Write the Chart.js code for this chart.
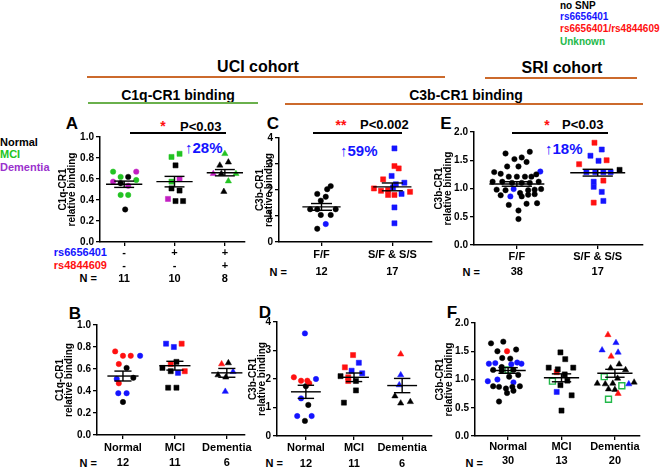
<!DOCTYPE html>
<html>
<head>
<meta charset="utf-8">
<script src="https://cdn.jsdelivr.net/npm/chart.js@4.4.0/dist/chart.umd.min.js"></script>
<style>
  body { margin: 0; background: #fff; width: 661px; height: 468px; position: relative; overflow: hidden;
         font-family: "Liberation Sans", Arial, sans-serif; font-weight: bold; }
  canvas { position: absolute; }
  .t { position: absolute; white-space: nowrap; line-height: 1; }
  .hl { position: absolute; }
</style>
</head>
<body>
<script>
// colour keys: k normal / no SNP, g MCI, m dementia, b rs6656401, r rs6656401/rs4844609, u unknown (open square)

// ---- A: C1q-CR1 by genotype (UCI)
const aRs1 = ['-', '+', '+'];
const aRs2 = ['-', '-', '+'];
const aN = [11, 10, 8];
const aGrp = [0,0,0,0,0,0,0,0,0,0,0, 1,1,1,1,1,1,1,1,1,1, 2,2,2,2,2,2,2,2];
const aJit = [-0.22,0.24,-0.07,0.08,0.24,-0.22,-0.07,0.08,-0.07,0.08,0.02,
              -0.06,0.1,0.02,-0.06,0.1,-0.06,0.1,-0.13,0.02,0.17,
              0,-0.1,0.07,-0.23,-0.07,0.22,0.07,-0.02];
const aVal = [0.67,0.67,0.62,0.62,0.59,0.575,0.56,0.536,0.448,0.448,0.31,
              0.81,0.84,0.73,0.575,0.60,0.51,0.49,0.41,0.39,0.39,
              0.84,0.73,0.76,0.65,0.65,0.65,0.58,0.48];
const aCol = ['g','m','g','k','g','m','k','m','g','g','k',
              'g','g','k','g','m','k','k','m','k','k',
              'g','k','k','m','k','g','g','k'];
const aMean = [0.55, 0.575, 0.66];
const aSem = [0.03, 0.05, 0.03];

// ---- C: C3b-CR1 by genotype (UCI)
const cCats = ['F/F', 'S/F & S/S'];
const cN = [12, 17];
const cGrp = [0,0,0,0,0,0,0,0,0,0,0,0, 1,1,1,1,1,1,1,1,1,1,1,1,1,1,1,1,1];
const cJit = [0.13,0.08,-0.06,0.06,-0.01,-0.16,-0.06,0.2,-0.01,0.13,0.06,-0.06,
              0.03,0.03,0.09,-0.01,-0.13,0.17,0.05,-0.26,-0.16,-0.06,0.01,0.25,-0.06,0.13,0.03,0.03,0.03];
const cVal = [2.15,2.03,1.85,1.74,1.59,1.26,1.26,1.26,1.04,1.04,0.69,0.51,
              3.6,2.92,2.83,2.54,2.41,2.28,2.22,2.06,1.97,2.0,2.1,1.93,1.81,1.85,1.81,1.33,0.72];
const cCol = ['k','k','k','k','k','k','k','k','k','k','b','k',
              'b','r','r','b','r','b','b','r','r','r','b','r','r','b','r','b','b'];
const cMean = [1.35, 2.12];
const cSem = [0.13, 0.15];

// ---- E: C3b-CR1 by genotype (SRI)
const eCats = ['F/F', 'S/F & S/S'];
const eN = [38, 17];
const eGrp = [0,0,0,0,0,0,0,0,0,0,0,0,0,0,0,0,0,0,0,0,0,0,0,0,0,0,0,0,0,0,0,0,0,0,0,0,0,0,
              1,1,1,1,1,1,1,1,1,1,1,1,1,1,1,1,1];
const eJit = [0.16,-0.14,0.06,-0.03,0.12,-0.12,0.02,0.29,-0.28,-0.2,0.24,-0.1,0,0.1,0.18,-0.3,-0.18,-0.06,0.06,
              0.16,0.27,-0.25,-0.14,-0.04,0.14,0.22,0.3,0.04,-0.08,-0.2,0.06,0.14,0.22,0.25,-0.1,0.02,0.02,0.12,
              -0.04,0.05,-0.09,0.11,0.01,-0.23,-0.14,-0.03,0.07,0.16,0.27,-0.05,0.07,-0.05,0.05,-0.05,0.07];
const eVal = [1.65,1.62,1.55,1.52,1.47,1.39,1.39,1.30,1.29,1.26,1.25,1.21,1.21,1.21,1.21,1.12,1.12,1.1,1.1,
              1.1,1.12,0.98,0.97,0.99,0.97,0.98,0.99,0.92,0.86,0.88,0.86,0.89,0.9,0.74,0.71,0.61,0.46,0.73,
              1.81,1.69,1.58,1.50,1.49,1.43,1.29,1.29,1.29,1.29,1.33,1.12,1.14,1.03,0.94,0.75,0.78];
const eCol = ['k','k','k','k','k','k','k','b','k','k','k','k','k','k','k','k','k','k','k',
              'k','k','k','k','b','k','k','k','k','b','k','k','k','k','k','k','k','k','k',
              'r','b','b','r','b','r','b','b','b','b','k','b','r','b','b','r','b'];
const eMean = [1.08, 1.28];
const eSem = [0.04, 0.06];

// ---- B: C1q-CR1 by diagnosis
const bCats = ['Normal', 'MCI', 'Dementia'];
const bN = [12, 11, 6];
const bGrp = [0,0,0,0,0,0,0,0,0,0,0,0, 1,1,1,1,1,1,1,1,1,1,1, 2,2,2,2,2,2];
const bJit = [-0.15,0,0.15,0.33,-0.08,0.07,-0.12,0.2,-0.08,-0.09,0.07,0,
              -0.17,0.13,-0.02,0.03,-0.08,-0.24,-0.08,0.19,0.06,-0.13,0.03,
              -0.1,0.03,-0.17,-0.02,0.12,-0.03];
const bVal = [0.76,0.72,0.72,0.72,0.645,0.61,0.51,0.52,0.47,0.38,0.38,0.30,
              0.83,0.83,0.80,0.665,0.645,0.61,0.58,0.58,0.565,0.43,0.43,
              0.645,0.655,0.545,0.525,0.575,0.395];
const bCol = ['r','r','r','b','r','k','b','k','r','b','b','k',
              'b','r','b','k','r','k','k','r','b','k','k',
              'r','k','k','k','b','b'];
const bMean = [0.536, 0.63, 0.565];
const bSem = [0.045, 0.04, 0.04];

// ---- D: C3b-CR1 by diagnosis (UCI)
const dCats = ['Normal', 'MCI', 'Dementia'];
const dN = [12, 11, 6];
const dGrp = [0,0,0,0,0,0,0,0,0,0,0,0, 1,1,1,1,1,1,1,1,1,1,1, 2,2,2,2,2,2];
const dJit = [-0.02,-0.25,0.21,-0.1,0.03,0.07,0,-0.1,0.05,-0.18,0.12,-0.02,
              -0.02,0.1,-0.19,-0.05,0.17,-0.28,-0.12,-0.12,0.04,0.04,-0.21,
              -0.03,-0.03,-0.06,-0.15,-0.03,0.17];
const dVal = [3.6,2.06,2.0,1.94,1.94,1.85,1.75,1.32,1.09,0.7,0.7,0.53,
              2.84,2.57,2.41,2.29,2.2,2.1,2.06,1.93,1.93,1.6,1.17,
              2.87,2.14,1.79,1.4,1.15,1.2];
const dCol = ['b','r','b','r','r','r','k','b','k','b','b','k',
              'r','b','r','b','b','k','r','r','k','k','k',
              'r','b','b','k','k','k'];
const dMean = [1.55, 2.06, 1.77];
const dSem = [0.23, 0.15, 0.25];

// ---- F: C3b-CR1 by diagnosis (SRI)
const fCats = ['Normal', 'MCI', 'Dementia'];
const fN = [30, 13, 20];
const fGrp = [0,0,0,0,0,0,0,0,0,0,0,0,0,0,0,0,0,0,0,0,0,0,0,0,0,0,0,0,0,0,
              1,1,1,1,1,1,1,1,1,1,1,1,1,
              2,2,2,2,2,2,2,2,2,2,2,2,2,2,2,2,2,2,2,2];
const fJit = [-0.32,-0.09,0.15,-0.2,-0.02,-0.11,0.04,-0.36,-0.24,0.06,0.17,0.25,-0.12,-0.28,-0.12,0,0.1,
              -0.38,-0.2,0.02,0.19,0.1,-0.28,-0.17,-0.04,0.08,0.22,-0.02,0.1,-0.17,
              -0.02,0.07,-0.24,0.22,-0.07,-0.09,0.06,-0.17,0.11,-0.02,-0.09,0.19,0,
              -0.13,0.02,-0.24,0.06,-0.07,0.08,-0.08,0.2,-0.2,0.05,-0.33,-0.18,-0.04,0.26,0.36,0.13,-0.12,0,0.06,-0.12];
const fVal = [1.64,1.67,1.53,1.50,1.50,1.38,1.37,1.28,1.29,1.27,1.30,1.28,1.22,1.17,1.16,1.17,1.17,
              0.97,1.0,1.05,1.08,0.95,0.88,0.87,0.84,0.87,0.88,0.76,0.8,0.61,
              1.48,1.36,1.21,1.21,1.18,1.13,1.09,0.97,0.98,0.90,0.78,0.72,0.45,
              1.79,1.65,1.52,1.48,1.41,1.27,1.2,1.17,1.05,1.02,0.93,0.92,0.93,0.92,0.95,0.89,0.83,0.82,0.75,0.65];
const fCol = ['k','k','k','k','r','k','k','b','b','b','b','b','k','k','k','u','k',
              'b','b','k','k','b','k','k','k','k','k','k','k','k',
              'k','k','k','k','k','r','k','u','k','k','b','k','k',
              'r','b','b','b','r','k','k','k','u','k','k','k','k','b','k','u','k','k','r','u'];
const fMean = [1.16, 1.03, 1.11];
const fSem = [0.05, 0.07, 0.07];

const colors = { k: '#000000', g: '#22c322', m: '#c21fc2', b: '#1414ff', r: '#ff1010', u: '#22b84a' };
const FONT = '"Liberation Sans", Arial, sans-serif';

function txt(s, x, y, size, color, align) {
  const d = document.createElement('div');
  d.className = 't';
  d.textContent = s;
  d.style.fontSize = size + 'px';
  d.style.color = color || '#000';
  d.style.top = (y - size / 2) + 'px';
  if (align === 'c') { d.style.left = x + 'px'; d.style.transform = 'translateX(-50%)'; }
  else if (align === 'r') { d.style.right = (661 - x) + 'px'; }
  else d.style.left = x + 'px';
  document.body.appendChild(d);
}

function hline(x0, x1, y, w, color) {
  const d = document.createElement('div');
  d.className = 'hl';
  d.style.left = x0 + 'px';
  d.style.width = (x1 - x0) + 'px';
  d.style.top = (y - w / 2) + 'px';
  d.style.height = w + 'px';
  d.style.background = color;
  document.body.appendChild(d);
}

function panel(p) {
  const padTop = 8, padRight = 32, xH = 44;
  const cv = document.createElement('canvas');
  const w = p.yW + (p.right - p.left) + padRight;
  const h = padTop + (p.bottom - p.top) + xH;
  cv.width = w; cv.height = h;
  cv.style.left = (p.left - p.yW) + 'px';
  cv.style.top = (p.top - padTop) + 'px';
  document.body.appendChild(cv);

  const datasets = [];
  // mean and SEM lines
  p.mean.forEach((m, i) => {
    const s = p.sem[i], mw = p.meanW, cw = p.meanW * 0.55;
    const segs = [
      [{ x: i - mw, y: m }, { x: i + mw, y: m }],
      [{ x: i, y: m - s }, { x: i, y: m + s }],
      [{ x: i - cw, y: m + s }, { x: i + cw, y: m + s }],
      [{ x: i - cw, y: m - s }, { x: i + cw, y: m - s }]
    ];
    segs.forEach(seg => datasets.push({
      type: 'line', data: seg, borderColor: '#000', borderWidth: 1.4, pointRadius: 0, order: 0
    }));
  });
  // points, one dataset per group and colour
  const keys = {};
  p.val.forEach((v, j) => {
    const k = p.grp[j] + p.col[j];
    if (!keys[k]) {
      const c = p.col[j];
      const shape = c === 'u' ? 'rect' : p.shapes[p.grp[j]];
      keys[k] = {
        type: 'scatter', data: [], order: 1, pointStyle: shape,
        pointRadius: c === 'u' ? 4.2 : (shape === 'circle' ? 2.7 : 3.6),
        backgroundColor: c === 'u' ? '#ffffff' : colors[c],
        borderColor: colors[c], borderWidth: c === 'u' ? 1.4 : 0.5
      };
      datasets.push(keys[k]);
    }
    keys[k].data.push({ x: p.grp[j] + p.jit[j], y: v });
  });

  const axisGrid = { drawOnChartArea: false, drawTicks: true, tickLength: 4, color: '#000', lineWidth: 1.3 };
  const axisBorder = { color: '#000', width: 1.5 };
  new Chart(cv.getContext('2d'), {
    data: { datasets },
    options: {
      responsive: false, animation: false, devicePixelRatio: 1,
      layout: { padding: { top: padTop, right: padRight, left: 0, bottom: 0 } },
      plugins: { legend: { display: false }, tooltip: { enabled: false } },
      scales: {
        x: {
          type: 'linear', min: p.xmin, max: p.xmax,
          afterBuildTicks: s => { s.ticks = p.labels.map((l, i) => ({ value: i })); },
          afterFit: s => { s.height = xH; },
          ticks: {
            autoSkip: false, maxRotation: 0, padding: p.tickPad, color: '#000',
            font: { family: FONT, size: 11, weight: 'bold', lineHeight: p.lineH / 11 },
            callback: v => p.labels[v]
          },
          grid: axisGrid, border: axisBorder
        },
        y: {
          type: 'linear', min: 0, max: p.ymax,
          afterFit: s => { s.width = p.yW; },
          ticks: {
            stepSize: p.step, padding: 2, color: '#000',
            font: { family: FONT, size: 10, weight: 'bold' },
            callback: v => v.toFixed(p.dec)
          },
          title: {
            display: true, text: [p.ytitle, 'relative binding'], color: '#000', padding: 0,
            font: { family: FONT, size: 10, weight: 'bold', lineHeight: 0.95 }
          },
          grid: axisGrid, border: axisBorder
        }
      }
    }
  });
}

// ---- headers and legends
txt('no SNP', 560, 6, 10, '#000');
txt('rs6656401', 560, 17, 10, '#1414ff');
txt('rs6656401/rs4844609', 560, 29, 10, '#ff1010');
txt('Unknown', 560, 42, 10, '#22b84a');

txt('UCI cohort', 258, 67, 16, '#000', 'c');
hline(87, 445, 77, 2, '#cc6a2c');
txt('SRI cohort', 562, 68, 16, '#000', 'c');
hline(485, 637, 78, 2, '#cc6a2c');
txt('C1q-CR1 binding', 178, 95, 14, '#000', 'c');
hline(88, 258, 103, 2, '#6ab04c');
txt('C3b-CR1 binding', 466, 95, 14, '#000', 'c');
hline(285, 643, 104, 2, '#cc6a2c');

txt('Normal', 0, 142, 11, '#000');
txt('MCI', 0, 154, 11, '#22c322');
txt('Dementia', 0, 167, 11, '#9a32cd');

// panel letters
txt('A', 72, 123, 17, '#000', 'c');
txt('C', 273, 123, 17, '#000', 'c');
txt('E', 446, 123, 17, '#000', 'c');
txt('B', 75, 313, 17, '#000', 'c');
txt('D', 265, 312, 17, '#000', 'c');
txt('F', 452, 312, 17, '#000', 'c');

// significance marks
txt('*', 163, 126, 14, '#ff1010', 'c');
txt('P<0.03', 180, 126, 13, '#000');
hline(130, 226, 133, 1.5, '#000');
txt('↑28%', 185, 147, 15, '#1414ff');

txt('**', 341, 125, 14, '#ff1010', 'c');
txt('P<0.002', 360, 124, 13, '#000');
hline(313, 402, 133, 1.5, '#000');
txt('↑59%', 340, 150, 15, '#1414ff');

txt('*', 547, 125, 14, '#ff1010', 'c');
txt('P<0.03', 562, 124, 13, '#000');
hline(512, 608, 133, 1.5, '#000');
txt('↑18%', 545, 148, 15, '#1414ff');

// row labels
txt('rs6656401', 107, 252, 11, '#1414ff', 'r');
txt('rs4844609', 107, 265, 11, '#ff1010', 'r');
txt('N =', 97, 278, 11, '#000', 'r');
txt('N =', 287, 272, 11, '#000', 'r');
txt('N =', 480, 272, 11, '#000', 'r');
txt('N =', 97, 463, 11, '#000', 'r');
txt('N =', 283, 463, 11, '#000', 'r');
txt('N =', 483, 463, 11, '#000', 'r');

// ---- charts
panel({ left: 100, right: 245, top: 137, bottom: 242, xmin: -0.48, xmax: 2.4, ymax: 1, step: 0.2, dec: 1,
  yW: 42, lineH: 13, tickPad: 0, meanW: 0.36, shapes: ['circle', 'rect', 'triangle'], ytitle: 'C1q-CR1',
  labels: aN.map((n, i) => [aRs1[i], aRs2[i], String(n)]),
  grp: aGrp, jit: aJit, val: aVal, col: aCol, mean: aMean, sem: aSem });
panel({ left: 279, right: 432, top: 138, bottom: 242, xmin: -0.6, xmax: 1.56, ymax: 4, step: 1, dec: 0,
  yW: 24, lineH: 17, tickPad: 0, meanW: 0.27, shapes: ['circle', 'rect'], ytitle: 'C3b-CR1',
  labels: cCats.map((c, i) => [c, String(cN[i])]),
  grp: cGrp, jit: cJit, val: cVal, col: cCol, mean: cMean, sem: cSem });
panel({ left: 474, right: 643, top: 132, bottom: 245, xmin: -0.53, xmax: 1.56, ymax: 2, step: 0.5, dec: 1,
  yW: 40, lineH: 15, tickPad: 0, meanW: 0.34, shapes: ['circle', 'rect'], ytitle: 'C3b-CR1',
  labels: eCats.map((c, i) => [c, String(eN[i])]),
  grp: eGrp, jit: eJit, val: eVal, col: eCol, mean: eMean, sem: eSem });
panel({ left: 97, right: 245, top: 325, bottom: 435, xmin: -0.5, xmax: 2.35, ymax: 1, step: 0.2, dec: 1,
  yW: 42, lineH: 15, tickPad: 1, meanW: 0.3, shapes: ['circle', 'rect', 'triangle'], ytitle: 'C1q-CR1',
  labels: bCats.map((c, i) => [c, String(bN[i])]),
  grp: bGrp, jit: bJit, val: bVal, col: bCol, mean: bMean, sem: bSem });
panel({ left: 277, right: 432, top: 322, bottom: 436, xmin: -0.6, xmax: 2.62, ymax: 4, step: 1, dec: 0,
  yW: 29, lineH: 16, tickPad: 0, meanW: 0.31, shapes: ['circle', 'rect', 'triangle'], ytitle: 'C3b-CR1',
  labels: dCats.map((c, i) => [c, String(dN[i])]),
  grp: dGrp, jit: dJit, val: dVal, col: dCol, mean: dMean, sem: dSem });
panel({ left: 475, right: 640, top: 323, bottom: 436, xmin: -0.62, xmax: 2.47, ymax: 2, step: 0.5, dec: 1,
  yW: 40, lineH: 14, tickPad: 0, meanW: 0.33, shapes: ['circle', 'rect', 'triangle'], ytitle: 'C3b-CR1',
  labels: fCats.map((c, i) => [c, String(fN[i])]),
  grp: fGrp, jit: fJit, val: fVal, col: fCol, mean: fMean, sem: fSem });
</script>
</body>
</html>
